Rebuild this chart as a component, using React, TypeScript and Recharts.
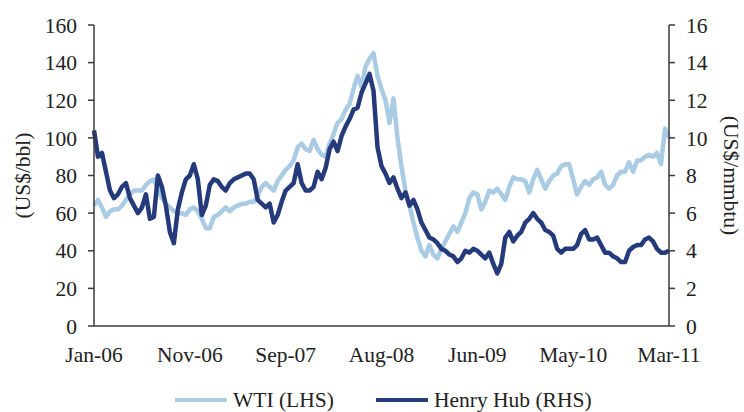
import React from "react";
import { LineChart, Line, XAxis, YAxis, Legend } from "recharts";

const tickLabels = ["Jan-06", "Nov-06", "Sep-07", "Aug-08", "Jun-09", "May-10", "Mar-11"];

// WTI crude oil, US$/bbl (left axis)
const wti = [
  64, 67, 63, 58, 61, 62, 62, 64, 67, 70, 72, 72, 72, 75, 77, 78, 73, 68, 65, 63,
  61, 60, 60, 59, 62, 63, 61, 57, 52, 52, 58, 59, 61, 63, 61, 63, 64, 65, 65, 66,
  66, 69, 74, 76, 74, 72, 77, 80, 83, 85, 88, 95, 97, 94, 93, 99, 94, 91, 90, 97,
  102, 108, 110, 115, 118, 126, 133, 127, 138, 142, 145, 133, 126, 120, 108, 121, 100, 85, 72, 64,
  55, 47, 40, 37, 43, 38, 36, 41, 45, 49, 53, 50, 55, 60, 68, 71, 70, 62, 66, 72,
  71, 73, 70, 67, 74, 79, 78, 78, 77, 71, 78, 83, 78, 73, 77, 80, 81, 85, 86, 86,
  78, 70, 74, 77, 75, 78, 79, 82, 75, 73, 75, 80, 82, 82, 87, 82, 88, 88, 90, 91,
  90, 92, 86, 105, 100,
];

// Henry Hub natural gas, US$/mmbtu (right axis)
const henryHub = [
  10.4, 9.0, 9.2, 8.2, 7.2, 6.8, 7.0, 7.4, 7.6, 6.8, 6.4, 6.0, 6.3, 7.0, 5.7, 5.8, 8.0, 7.4, 6.4, 5.0,
  4.4, 6.2, 7.1, 7.8, 8.0, 8.6, 7.8, 5.9, 6.4, 7.5, 7.8, 7.7, 7.4, 7.2, 7.6, 7.8, 7.9, 8.0, 8.1, 8.1,
  7.8, 6.7, 6.5, 6.3, 6.5, 5.5, 5.9, 6.6, 7.2, 7.4, 7.6, 8.6, 7.6, 7.2, 7.2, 7.4, 8.2, 7.8, 8.4, 9.4,
  9.8, 9.3, 10.1, 10.6, 11.0, 11.5, 11.6, 12.4, 12.9, 13.4, 12.5, 9.5, 8.5, 8.1, 7.6, 7.9, 7.3, 6.8, 7.1, 6.4,
  6.7, 6.2, 5.5, 5.1, 4.7, 4.6, 4.4, 4.1, 4.0, 3.8, 3.7, 3.4, 3.6, 4.0, 3.9, 4.1, 4.0, 3.8, 3.6, 3.9,
  3.3, 2.8, 3.3, 4.7, 5.0, 4.5, 4.8, 5.0, 5.5, 5.7, 6.0, 5.7, 5.5, 5.1, 5.0, 4.8, 4.1, 3.9, 4.1, 4.1,
  4.1, 4.3, 4.9, 5.1, 4.6, 4.6, 4.7, 4.3, 3.9, 3.9, 3.7, 3.6, 3.4, 3.4, 4.0, 4.2, 4.3, 4.3, 4.6, 4.7,
  4.5, 4.1, 3.9, 3.9, 4.0,
];

const leftTicks = [0, 20, 40, 60, 80, 100, 120, 140, 160];
const rightTicks = [0, 2, 4, 6, 8, 10, 12, 14, 16];

const seriesNames = ["WTI (LHS)", "Henry Hub (RHS)"];
const LIGHT = "#a9cbe3";
const DARK = "#253a7b";

const data = wti.map((w, i) => ({ i, wti: w, hh: henryHub[i] }));
const last = wti.length - 1;
const xTicks = tickLabels.map((_, k) => (k * last) / (tickLabels.length - 1));

const FONT = "Liberation Serif, Times New Roman, Times, serif";
const FS = 21.5;
const tickStyle = { fontFamily: FONT, fontSize: FS, fill: "#222" };
const axisLine = { stroke: "#3a3a3a", strokeWidth: 1.5 };

const LegendContent = () => (
  <div
    style={{
      display: "flex",
      alignItems: "center",
      fontFamily: FONT,
      fontSize: FS,
      color: "#222",
      lineHeight: "24px",
    }}
  >
    {[LIGHT, DARK].map((c, k) => (
      <div key={k} style={{ display: "flex", alignItems: "center", marginRight: k === 0 ? 42 : 0 }}>
        <svg width={52} height={8} style={{ marginRight: 6 }}>
          <line x1={1} y1={4} x2={51} y2={4} stroke={c} strokeWidth={4} strokeLinecap="round" />
        </svg>
        <span>{seriesNames[k]}</span>
      </div>
    ))}
  </div>
);

export default function App() {
  return (
    <div style={{ position: "fixed", left: 0, top: 0, width: 744, height: 412, background: "#fff" }}>
      <LineChart width={744} height={412} data={data} margin={{ top: 25, right: 0, bottom: 0, left: 0 }}>
        <XAxis
          dataKey="i"
          type="number"
          domain={[0, last]}
          ticks={xTicks}
          tickFormatter={(v: number) => tickLabels[Math.round((v / last) * (tickLabels.length - 1))]}
          tick={tickStyle}
          tickLine={false}
          tickSize={0}
          tickMargin={21}
          axisLine={axisLine}
          height={62}
          interval={0}
        />
        <YAxis
          yAxisId="left"
          domain={[0, 160]}
          ticks={leftTicks}
          width={94}
          tick={tickStyle}
          tickSize={6}
          tickMargin={11}
          tickLine={axisLine}
          axisLine={axisLine}
          interval={0}
          label={{
            value: "(US$/bbl)",
            angle: -90,
            position: "insideLeft",
            offset: 22,
            style: { textAnchor: "middle", fontFamily: FONT, fontSize: FS, fill: "#222" },
          }}
        />
        <YAxis
          yAxisId="right"
          orientation="right"
          domain={[0, 16]}
          ticks={rightTicks}
          width={75}
          tick={tickStyle}
          tickSize={6}
          tickMargin={11}
          tickLine={axisLine}
          axisLine={axisLine}
          interval={0}
          label={{
            value: "(US$/mmbtu)",
            angle: 90,
            position: "insideRight",
            offset: 12,
            style: { textAnchor: "middle", fontFamily: FONT, fontSize: FS, fill: "#222" },
          }}
        />
        <Legend verticalAlign="bottom" content={<LegendContent />} wrapperStyle={{ left: 175, width: "auto" }} />
        <Line
          yAxisId="left"
          dataKey="wti"
          name={seriesNames[0]}
          stroke={LIGHT}
          strokeWidth={4.5}
          dot={false}
          type="linear"
          strokeLinejoin="round"
          isAnimationActive={false}
        />
        <Line
          yAxisId="right"
          dataKey="hh"
          name={seriesNames[1]}
          stroke={DARK}
          strokeWidth={4.5}
          dot={false}
          type="linear"
          strokeLinejoin="round"
          isAnimationActive={false}
        />
      </LineChart>
    </div>
  );
}
